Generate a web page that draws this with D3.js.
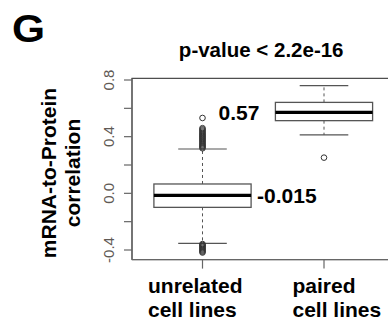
<!DOCTYPE html>
<html>
<head>
<meta charset="utf-8">
<script src="https://cdn.jsdelivr.net/npm/d3@7"></script>
<style>
  body { margin: 0; background: #fff; }
  svg { display: block; font-family: "Liberation Sans", Arial, sans-serif; }
</style>
</head>
<body>
<svg id="chart" width="388" height="322"></svg>
<script>
// data
const categories = ["unrelated", "paired"];
const categoryLabels = [["unrelated", "cell lines"], ["paired", "cell lines"]];
const whiskerLow = [-0.353, 0.412];
const q1 = [-0.099, 0.513];
const medians = [-0.015, 0.572];
const q3 = [0.066, 0.642];
const whiskerHigh = [0.313, 0.760];
const medianLabels = ["-0.015", "0.57"];
const outliersUnrelated = [0.318, 0.325, 0.332, 0.338, 0.345, 0.352, 0.36, 0.368, 0.375, 0.383,
  0.39, 0.398, 0.405, 0.413, 0.42, 0.428, 0.436, 0.444, 0.452, 0.46, 0.532,
  -0.358, -0.364, -0.37, -0.377, -0.384, -0.391, -0.398, -0.405, -0.412, -0.418];
const outliersPaired = [0.252];
const yTicks = [-0.4, -0.2, 0.0, 0.2, 0.4, 0.6, 0.8];
const yTickLabels = ["-0.4", "", "0.0", "", "0.4", "", "0.8"];
const title = "p-value < 2.2e-16";

const svg = d3.select("#chart");

// plot region (right side runs off the canvas like the original)
const plotLeft = 132, plotRight = 394.4, plotTop = 78.3, plotBottom = 259.6;

let x = d3.scaleBand()
  .domain(categories)
  .range([141.75, 384.75])
  .paddingInner(0.2)
  .paddingOuter(0.1);
let y = d3.scaleLinear()
  .domain([-0.4, 0.8])
  .range([250, 80]);

const bw = x.bandwidth();
const cx = d => x(d) + bw / 2;

// frame
svg.append("rect")
  .attr("x", plotLeft).attr("y", plotTop)
  .attr("width", plotRight - plotLeft).attr("height", plotBottom - plotTop)
  .attr("fill", "none").attr("stroke", "#222").attr("stroke-width", 1);

// y axis
let yAxis = svg.append("g").attr("transform", "translate(" + plotLeft + ",0)");
yAxis.append("line")
  .attr("y1", plotTop).attr("y2", plotBottom)
  .attr("stroke", "#666").attr("stroke-width", 1.3);
yAxis.selectAll(".tick").data(yTicks).enter().append("line")
  .attr("x1", -8).attr("x2", 0)
  .attr("y1", d => y(d)).attr("y2", d => y(d))
  .attr("stroke", "#666").attr("stroke-width", 1.2);
yAxis.selectAll(".lab").data(yTicks).enter().append("text")
  .attr("transform", d => "translate(-18," + y(d) + ") rotate(-90)")
  .attr("text-anchor", "middle")
  .attr("font-size", 15)
  .attr("fill", "#5f5a55")
  .text((d, i) => yTickLabels[i]);

// x axis
let xAxis = svg.append("g");
xAxis.append("line")
  .attr("x1", plotLeft).attr("x2", plotRight)
  .attr("y1", plotBottom).attr("y2", plotBottom)
  .attr("stroke", "#666").attr("stroke-width", 1.3);
xAxis.selectAll(".tick").data(categories).enter().append("line")
  .attr("x1", d => cx(d)).attr("x2", d => cx(d))
  .attr("y1", plotBottom).attr("y2", plotBottom + 9)
  .attr("stroke", "#666").attr("stroke-width", 1.2);

// category labels (left aligned lines like the original)
const labelShift = [-54.5, -31.5];
categories.forEach((c, i) => {
  let t = svg.append("text")
    .attr("font-size", 21).attr("font-weight", "bold").attr("fill", "#000");
  categoryLabels[i].forEach((line, j) => {
    t.append("tspan")
      .attr("x", cx(c) + labelShift[i])
      .attr("y", 293 + j * 24)
      .text(line);
  });
});

// boxes
let boxes = svg.append("g");
categories.forEach((c, i) => {
  let g = boxes.append("g");
  // dashed whiskers
  g.append("line")
    .attr("x1", cx(c)).attr("x2", cx(c))
    .attr("y1", y(q3[i])).attr("y2", y(whiskerHigh[i]))
    .attr("stroke", "#555").attr("stroke-dasharray", "3,3");
  g.append("line")
    .attr("x1", cx(c)).attr("x2", cx(c))
    .attr("y1", y(q1[i])).attr("y2", y(whiskerLow[i]))
    .attr("stroke", "#555").attr("stroke-dasharray", "3,3");
  // staples
  [whiskerLow[i], whiskerHigh[i]].forEach(v => {
    g.append("line")
      .attr("x1", cx(c) - bw / 4).attr("x2", cx(c) + bw / 4)
      .attr("y1", y(v)).attr("y2", y(v))
      .attr("stroke", "#555").attr("stroke-width", 1.2);
  });
  g.append("rect")
    .attr("x", x(c)).attr("y", y(q3[i]))
    .attr("width", bw).attr("height", y(q1[i]) - y(q3[i]))
    .attr("fill", "#fff").attr("stroke", "#555").attr("stroke-width", 1.3);
  g.append("line")
    .attr("x1", x(c)).attr("x2", x(c) + bw)
    .attr("y1", y(medians[i])).attr("y2", y(medians[i]))
    .attr("stroke", "#000").attr("stroke-width", 3.2);
});

// outliers
const outliers = [outliersUnrelated, outliersPaired];
categories.forEach((c, i) => {
  svg.append("g").selectAll("circle").data(outliers[i]).enter().append("circle")
    .attr("cx", cx(c))
    .attr("cy", d => y(d))
    .attr("r", 2.8)
    .attr("fill", "none")
    .attr("stroke", "#333")
    .attr("stroke-width", 1);
});

// median labels
svg.append("text")
  .attr("x", x("unrelated") + bw + 6)
  .attr("y", y(medians[0]))
  .attr("dy", "0.34em")
  .attr("font-size", 21).attr("font-weight", "bold")
  .text(medianLabels[0]);
svg.append("text")
  .attr("x", x("paired") - 16)
  .attr("y", y(medians[1]))
  .attr("dy", "0.36em")
  .attr("text-anchor", "end")
  .attr("font-size", 21).attr("font-weight", "bold")
  .text(medianLabels[1]);

// y title
let yt = svg.append("text")
  .attr("transform", "translate(0,173) rotate(-90)")
  .attr("text-anchor", "middle")
  .attr("font-size", 21).attr("font-weight", "bold");
yt.append("tspan").attr("x", 0).attr("y", 55.5).text("mRNA-to-Protein");
yt.append("tspan").attr("x", 0).attr("y", 80).text("correlation");

// title and panel letter
svg.append("text")
  .attr("x", (plotLeft + plotRight) / 2 - 2)
  .attr("y", 57)
  .attr("text-anchor", "middle")
  .attr("font-size", 20.5).attr("font-weight", "bold")
  .text(title);

svg.append("text")
  .attr("transform", "translate(12,42) scale(1.12,1)")
  .attr("font-size", 38).attr("font-weight", "bold")
  .text("G");
</script>
</body>
</html>
